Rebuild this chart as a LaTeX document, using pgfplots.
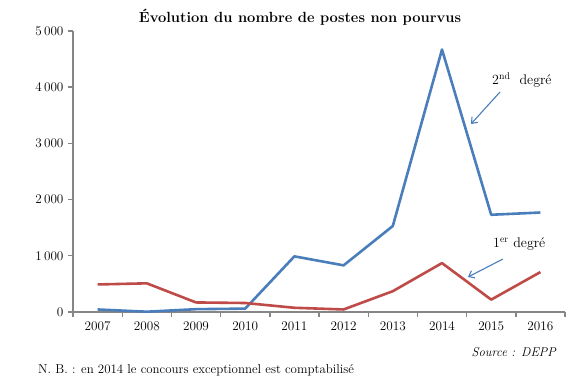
\documentclass[border=0pt]{standalone}
\usepackage{pgfplots}
\pgfplotsset{compat=1.18}
\usetikzlibrary{arrows.meta}
\definecolor{bl}{HTML}{4A7EBB}
\definecolor{rd}{HTML}{BE4B48}
\definecolor{axc}{HTML}{868686}
\begin{document}
\begin{tikzpicture}[x=1pt,y=1pt]
\path[use as bounding box] (0,0) rectangle (566,379);
\begin{axis}[
  at={(73pt,67pt)}, anchor=south west,
  scale only axis, width=492pt, height=281pt,
  xmin=-0.5, xmax=9.5, ymin=0, ymax=5000,
  axis x line=bottom, axis y line=left,
  axis line style={axc, line width=1.4pt, -},
  xtick={0,...,9},
  xticklabels={2007,2008,2009,2010,2011,2012,2013,2014,2015,2016},
  minor xtick={-0.5,0.5,...,9.5},
  major x tick style={draw=none},
  minor x tick style={axc, line width=1.4pt},
  ytick={0,1000,...,5000},
  y tick style={axc, line width=1.4pt},
  tick align=outside,
  major tick length=5pt, minor tick length=5pt,
  ticklabel style={font=\fontsize{13.2}{15}\selectfont},
  xticklabel style={yshift=-1pt},
  yticklabel style={xshift=-1pt},
  /pgf/number format/.cd, 1000 sep={\,}, assume math mode=true,
  /pgfplots/.cd,
  clip=false,
]
\addplot[bl, line width=2.6pt, line join=round] coordinates {
  (0,45) (1,5) (2,50) (3,60) (4,990) (5,830) (6,1530) (7,4670) (8,1730) (9,1770)};
\addplot[rd, line width=2.6pt, line join=round] coordinates {
  (0,490) (1,510) (2,170) (3,160) (4,75) (5,45) (6,370) (7,870) (8,220) (9,710)};
\end{axis}
\node[anchor=base, font=\bfseries\fontsize{14.7}{17}\selectfont] at (300,356) {Évolution du nombre de postes non pourvus};
\node[anchor=base west, inner sep=0pt, font=\fontsize{14}{16}\selectfont] at (492,294) {2\textsuperscript{nd}\ \ degré};
\draw[bl, line width=1.1pt, -{Straight Barb[length=5pt,width=8pt]}] (500,287) -- (471,255);
\node[anchor=base west, inner sep=0pt, font=\fontsize{14}{16}\selectfont] at (493,131) {1\textsuperscript{er} degré};
\draw[bl, line width=1.1pt, -{Straight Barb[length=5pt,width=8pt]}] (503,120) -- (468,102);
\node[anchor=base east, inner sep=0pt, font=\itshape\fontsize{12.7}{15}\selectfont] at (556,22) {Source : DEPP};
\node[anchor=base west, inner sep=0pt, font=\fontsize{12.9}{15}\selectfont] at (38,5) {N. B. : en 2014 le concours exceptionnel est comptabilisé};
\end{tikzpicture}
\end{document}
